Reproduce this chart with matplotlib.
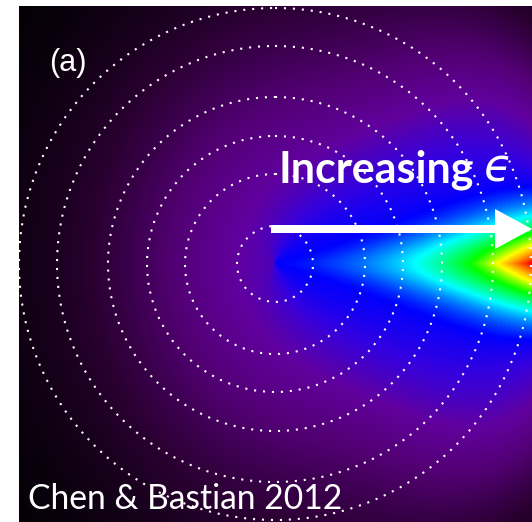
import numpy as np
import matplotlib
matplotlib.use("Agg")
import matplotlib.pyplot as plt
from matplotlib.colors import LinearSegmentedColormap
from matplotlib.patches import Circle, FancyArrow

# frame of the map, in pixel units
x_left, x_right = 19, 532
y_top, y_bottom = 6, 522

# source position and the dotted rings drawn around it
src_x, src_y = 275, 264
ring_radii = [38, 90, 128, 167, 218, 256]

# rainbow table: black -> purple -> blue -> cyan -> green -> yellow -> red
cmap_stops = [0.0, 0.10, 0.20, 0.28, 0.36, 0.42, 0.50, 0.56, 0.62, 0.68, 0.78, 0.88, 1.0]
cmap_colors = [(0, 0, 0), (0.17, 0, 0.20), (0.32, 0, 0.45), (0.38, 0, 0.62),
               (0.20, 0, 0.88), (0, 0, 1), (0, 0.55, 1), (0, 1, 1), (0, 1, 0.5),
               (0, 1, 0), (1, 1, 0), (1, 0.5, 0), (1, 0, 0)]

# brightness model: purple glow, blue fan level, beam along +x
glow_x, glow_y = 310, 264
glow_ax_left, glow_ax_right, glow_ay = 200, 300, 240
glow_peak = 0.32
fan_level, fan_width, fan_spread, fan_cut = 0.42, 0.85, 0.75, 330.0
beam_amp, beam_width, beam_pow = 0.36, 0.21, 1.6
spike_amp, spike_width, spike_pow = 0.25, 0.05, 8.0

cmap = LinearSegmentedColormap.from_list("rainbow_k", list(zip(cmap_stops, cmap_colors)))

xx, yy = np.meshgrid(np.arange(x_left, x_right + 1) + 0.5,
                     np.arange(y_top, y_bottom + 1) + 0.5)
dx = xx - glow_x
ax_scale = np.where(dx < 0, glow_ax_left, glow_ax_right)
q = (dx / ax_scale) ** 2 + ((yy - glow_y) / glow_ay) ** 2
glow = glow_peak * np.exp(-q)

r = np.hypot(xx - src_x, yy - src_y)
theta = np.abs(np.arctan2(yy - src_y, xx - src_x))
rn = r / ring_radii[-1]
width = fan_width + fan_spread * np.exp(-r / 50)
mask = np.exp(-(theta / width) ** 2.5) * np.exp(-(r / fan_cut) ** 8)
field = glow * (1 - mask) + fan_level * mask
field += beam_amp * rn ** beam_pow * np.exp(-(theta / beam_width) ** 2)
field += spike_amp * rn ** spike_pow * np.exp(-theta / spike_width)
field = np.clip(field, 0, 1)

fig = plt.figure(figsize=(5.32, 5.22), dpi=100)
ax = fig.add_axes([x_left / 532, 0, (x_right - x_left) / 532, (y_bottom - y_top) / 522])
ax.imshow(field, cmap=cmap, vmin=0, vmax=1, origin="upper",
          extent=[x_left, x_right, y_bottom, y_top], interpolation="bilinear")

for rad in ring_radii:
    ax.add_patch(Circle((src_x, src_y), rad, fill=False, edgecolor="white",
                        linewidth=1.5, linestyle=(0, (1, 3.3))))

ax.add_patch(FancyArrow(271, 229, 261, 0, width=8, head_width=40, head_length=37,
                        length_includes_head=True, color="white", linewidth=0))

ax.text(49, 63, "(a)", color="white", fontsize=22, family="Liberation Sans",
        va="center", ha="left")
ax.text(278, 182, "Increasing", color="white", fontsize=31,
        family="Lato", weight="bold", va="baseline", ha="left")
ax.text(484, 182, "\u03f5", color="white", fontsize=33,
        family="DejaVu Sans", style="italic", va="baseline", ha="left")
ax.text(28, 509, "Chen & Bastian 2012", color="white", fontsize=24.2,
        family="Lato", va="baseline", ha="left")

ax.set_xlim(x_left, x_right)
ax.set_ylim(y_bottom, y_top)
ax.axis("off")
fig.savefig("out.png", dpi=100)
